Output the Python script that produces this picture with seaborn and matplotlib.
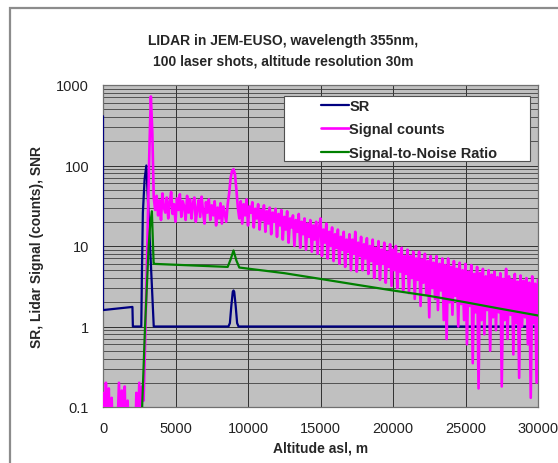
import numpy as np
import pandas as pd
import matplotlib
matplotlib.use("Agg")
import matplotlib.pyplot as plt
from matplotlib.patches import Rectangle
from matplotlib.ticker import FixedLocator, LogLocator, NullFormatter
import seaborn as sns

# ---- data -------------------------------------------------------------
# Backscatter ratio (SR) profile
sr_alt = [0, 0, 2030, 2060, 2640, 2680, 2750, 2870, 2990, 3500, 8650,
          8750, 8850, 8950, 9000, 9050, 9150, 9250, 9350, 30000]
sr_val = [410, 1.6, 1.75, 1.0, 1.0, 4.0, 26, 68, 100, 1.0, 1.0,
          1.1, 1.8, 2.7, 2.8, 2.7, 1.8, 1.1, 1.0, 1.0]

# Lidar signal counts, sampled every 100 m from 0 to 30000 m
signal_step = 100
signal_counts = [
    0.15, 0.04, 0.2, 0.06, 0.17, 0.03, 0.13, 0.02, 0.02, 0.03,
    0.05, 0.2, 0.04, 0.16, 0.03, 0.18, 0.02, 0.12, 0.02, 0.02,
    0.02, 0.03, 0.02, 0.15, 0.04, 0.2, 0.05, 0.18, 0.12, 0.6,
    3.5, 25, 160, 720, 260, 40, 28, 42, 24, 37,
    21, 45, 30, 26, 40, 22, 35, 47, 25, 33,
    20, 39, 28, 44, 23, 36, 31, 21, 42, 26,
    38, 22, 34, 40, 20, 29, 37, 23, 41, 27,
    19, 35, 26, 38, 21, 32, 24, 36, 18, 30,
    22, 34, 19, 31, 25, 20, 33, 45, 70, 85,
    90, 78, 50, 30, 22, 36, 19, 33, 24, 38,
    18, 31, 26, 35, 17, 29, 22, 33, 16, 28,
    21, 32, 15, 27, 19, 30, 14, 26, 20, 29,
    13, 25, 18, 28, 12, 23, 16, 27, 11, 22,
    17, 24, 10, 21, 15, 25, 9.5, 20, 14, 22,
    9, 19, 13, 21, 8.5, 18, 12, 20, 8, 17,
    22, 7.5, 16, 11, 19, 7, 15, 10, 17, 6.5,
    14, 9.5, 16, 6, 13, 9, 15, 5.5, 12, 8.5,
    14, 5, 12, 8, 15, 4.8, 11, 7.5, 13, 5,
    10.5, 7, 12.5, 4.5, 10, 6.5, 12, 4, 9.5, 6,
    11.5, 3.8, 9, 6, 11, 3.5, 8.5, 5.5, 10.5, 3.2,
    9, 5, 10, 3, 8, 4.8, 9.5, 2.8, 7.5, 4.5,
    9, 2.6, 7.5, 4, 8.5, 2.2, 7, 3.8, 8.5, 1.8,
    6.8, 3.5, 8, 2.5, 6.5, 1.3, 7.5, 3, 6.2, 2.2,
    7.5, 1.6, 6, 2.8, 7, 1.2, 5.8, 0.7, 7, 2,
    5.5, 1.4, 6.5, 2.4, 5.2, 1.0, 6.2, 1.9, 5, 1.2,
    6, 0.6, 4.8, 1.8, 5.8, 0.35, 4.5, 1.5, 5.5, 0.17,
    4.6, 1.2, 5.2, 0.8, 4.2, 1.6, 5, 0.5, 4.4, 1.3,
    4.8, 0.9, 4.1, 1.5, 4.6, 0.18, 3.9, 1.2, 5.2, 0.7,
    4.2, 1.4, 3.8, 0.45, 4.5, 1.1, 3.6, 0.23, 4.3, 1.0,
    3.7, 1.3, 4.0, 0.6, 3.5, 0.13, 4.2, 1.1, 3.4, 0.2,
    3.8,
]

# Signal-to-noise ratio
snr_alt = [2600, 2700, 2900, 3150, 3250, 3370, 3490, 3500, 8600, 8800,
           9000, 9200, 9400, 12500, 15000, 17500, 20000, 22500, 25000,
           27500, 30000]
snr_val = [0.05, 0.1, 1.0, 10, 18, 27, 6.2, 6.0, 5.5, 6.8,
           8.8, 6.6, 5.4, 4.6, 3.9, 3.3, 2.8, 2.4, 2.0,
           1.65, 1.37]

title_text = "LIDAR in JEM-EUSO, wavelength 355nm,\n100 laser shots, altitude resolution 30m"
y_ticks = [0.1, 1, 10, 100, 1000]
y_tick_labels = ["0.1", "1", "10", "100", "1000"]
x_ticks = [0, 5000, 10000, 15000, 20000, 25000, 30000]

signal_alt = np.arange(len(signal_counts)) * signal_step

# ---- figure -----------------------------------------------------------
sns.set_style("white")
plt.rcParams["font.family"] = ["Liberation Sans", "DejaVu Sans"]

fig = plt.figure(figsize=(5.58, 4.64), dpi=100)
fig.patch.set_facecolor("white")

# chart-area border
fig.patches.append(Rectangle((10 / 558, -0.2), 2.0, 0.2 + (1 - 9 / 464),
                             transform=fig.transFigure, fill=False,
                             edgecolor="#8c8c8c", lw=1.6, zorder=0))

ax = fig.add_axes([103 / 558, 1 - 408 / 464, 435 / 558, 322 / 464])
ax.set_facecolor("#c0c0c0")

navy, magenta, green = "#000080", "#ff00ff", "#008000"

sns.lineplot(x=sr_alt, y=sr_val, ax=ax, estimator=None, sort=False,
             color=navy, lw=1.6, label="SR", zorder=3)
sns.lineplot(x=signal_alt, y=signal_counts, ax=ax, estimator=None, sort=False,
             color=magenta, lw=1.9, label="Signal counts", zorder=4)
sns.lineplot(x=snr_alt, y=snr_val, ax=ax, estimator=None, sort=False,
             color=green, lw=1.6, label="Signal-to-Noise Ratio", zorder=5)

ax.set_yscale("log")
ax.set_ylim(0.1, 1000)
ax.set_xlim(0, 30000)

ax.yaxis.set_major_locator(FixedLocator(y_ticks))
ax.set_yticklabels(y_tick_labels)
ax.yaxis.set_minor_locator(LogLocator(base=10, subs=np.arange(2, 10)))
ax.yaxis.set_minor_formatter(NullFormatter())
ax.set_xticks(x_ticks)
ax.set_xticklabels([str(v) for v in x_ticks])

ax.grid(True, which="major", axis="y", color="#303030", lw=0.7, zorder=1)
ax.grid(True, which="minor", axis="y", color="#404040", lw=0.6, zorder=1)
ax.grid(True, which="major", axis="x", color="#303030", lw=0.7, zorder=1)
ax.set_axisbelow(True)

ax.tick_params(axis="both", which="major", direction="out", length=4,
               width=0.8, color="#606060", labelsize=10.5,
               labelcolor="#222222", pad=6)
ax.tick_params(axis="y", which="minor", length=0)
for s in ax.spines.values():
    s.set_color("#707070")
    s.set_linewidth(0.9)

ax.set_xlabel("Altitude asl, m", fontsize=10, fontweight="bold", labelpad=4)
ax.set_ylabel("SR, Lidar Signal (counts), SNR", fontsize=10,
              fontweight="bold", labelpad=9)
fig.text(283 / 558, 1 - 51 / 464, title_text, ha="center", va="center",
         fontsize=10, fontweight="bold", linespacing=1.6)

# legend box
ax.add_patch(Rectangle(((284 - 103) / 435, (408 - 162) / 322),
                       (530 - 284) / 435, (162 - 97) / 322,
                       transform=ax.transAxes, facecolor="white",
                       edgecolor="#505050", lw=0.8, zorder=6))
leg = ax.legend(loc="upper left", bbox_to_anchor=((321 - 103) / 435, (408 - 100) / 322),
                frameon=False, borderpad=0, borderaxespad=0,
                handlelength=1.9, handletextpad=0.05, labelspacing=0.65,
                prop={"weight": "bold", "size": 10.5})
leg.set_zorder(7)

fig.savefig("out.png", dpi=100, facecolor="white")
